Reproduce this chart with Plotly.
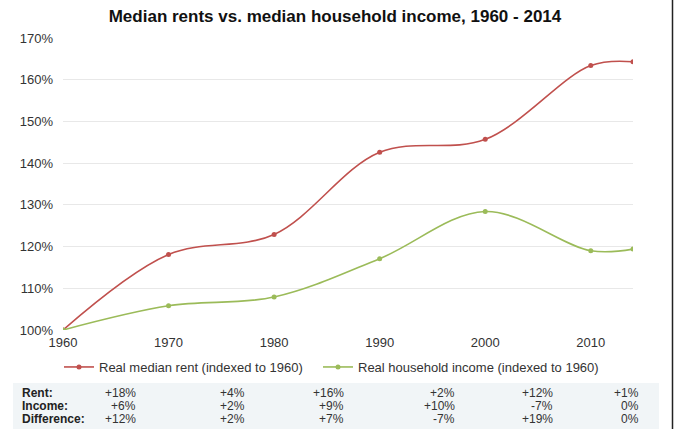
import plotly.graph_objects as go

# ---- data ----
years = [1960, 1970, 1980, 1990, 2000, 2010, 2014]
rent_index = [100.0, 118.1, 122.9, 142.6, 145.7, 163.4, 164.3]
income_index = [100.0, 105.8, 107.9, 117.1, 128.4, 119.0, 119.4]

row_labels = ["Rent:", "Income:", "Difference:"]
rent_change = ["+18%", "+4%", "+16%", "+2%", "+12%", "+1%"]
income_change = ["+6%", "+2%", "+9%", "+10%", "-7%", "0%"]
diff_change = ["+12%", "+2%", "+7%", "-7%", "+19%", "0%"]

y_ticks = [100, 110, 120, 130, 140, 150, 160, 170]
x_ticks = [1960, 1970, 1980, 1990, 2000, 2010]

# ---- layout geometry (reference pixels) ----
W, H = 674, 429
PL, PR, PT, PB = 63, 633, 38, 330          # plot area in pixels
L, T, R, B = PL, PT, W - PR, H - PB
PW = PR - PL
PH = PB - PT


def px(x):
    return (x - PL) / PW


def py(y):
    return (PB - y) / PH


FONT = "Liberation Sans, Arial, sans-serif"
RED = "#c0504d"
GREEN = "#9bbb59"

fig = go.Figure()
fig.add_trace(go.Scatter(
    x=years, y=rent_index, mode="lines+markers",
    name="Real median rent (indexed to 1960)",
    line=dict(color=RED, width=1.6, shape="spline", smoothing=1.0),
    marker=dict(color=RED, size=5),
    legend="legend",
))
fig.add_trace(go.Scatter(
    x=years, y=income_index, mode="lines+markers",
    name="Real household income (indexed to 1960)",
    line=dict(color=GREEN, width=1.6, shape="spline", smoothing=1.0),
    marker=dict(color=GREEN, size=5),
    legend="legend2",
))

annotations = []
col_right = [138, 247, 346, 457, 555, 641]
row_y = [393, 406, 419]
for label, yy in zip(row_labels, row_y):
    annotations.append(dict(
        x=px(20), y=py(yy), xref="paper", yref="paper",
        text="<b>" + label + "</b>", showarrow=False,
        xanchor="left", yanchor="middle",
        font=dict(family=FONT, size=12, color="#222222"),
    ))
for row, yy in zip([rent_change, income_change, diff_change], row_y):
    for val, xr in zip(row, col_right):
        annotations.append(dict(
            x=px(xr), y=py(yy), xref="paper", yref="paper",
            text=val, showarrow=False,
            xanchor="right", yanchor="middle",
            font=dict(family=FONT, size=12, color="#333333"),
        ))

shapes = [
    dict(type="rect", xref="paper", yref="paper",
         x0=px(13), x1=px(659), y0=py(383), y1=py(429),
         fillcolor="#f1f5f7", line=dict(width=0), layer="below"),
    dict(type="line", xref="paper", yref="paper",
         x0=px(672.5), x1=px(672.5), y0=py(0), y1=py(429),
         line=dict(color="#222222", width=1.5)),
]

legend_style = dict(
    orientation="h", yanchor="top", y=py(352), xanchor="left",
    font=dict(family=FONT, size=13, color="#333333"),
    bgcolor="rgba(0,0,0,0)",
)

fig.update_layout(
    width=W, height=H,
    margin=dict(l=L, r=R, t=T, b=B, pad=0),
    paper_bgcolor="white", plot_bgcolor="white",
    font=dict(family=FONT, size=13, color="#404040"),
    title=dict(
        text="<b>Median rents vs. median household income, 1960 - 2014</b>",
        x=0.497, xref="container", y=1 - 16 / H, yref="container",
        xanchor="center", yanchor="middle",
        font=dict(family=FONT, size=17, color="#111111"),
    ),
    xaxis=dict(
        range=[1960, 2014], tickvals=x_ticks, showgrid=False,
        zeroline=False, showline=False, ticks="",
        ticklabelstandoff=3,
        tickfont=dict(size=13, color="#333333"),
    ),
    yaxis=dict(
        range=[100, 170], tickvals=y_ticks,
        ticktext=[f"{v}%" for v in y_ticks],
        showgrid=True, gridcolor="#e8e8e8", gridwidth=1,
        zeroline=False, showline=False, ticks="",
        ticklabelstandoff=9,
        tickfont=dict(size=13, color="#333333"),
    ),
    legend=dict(legend_style, x=px(59)),
    legend2=dict(legend_style, x=px(318)),
    annotations=annotations,
    shapes=shapes,
    showlegend=True,
)

fig.write_html(
    "out.html",
    config={"displayModeBar": False},
    post_script="document.body.style.margin='0';"
                "document.documentElement.style.overflow='hidden';",
)
